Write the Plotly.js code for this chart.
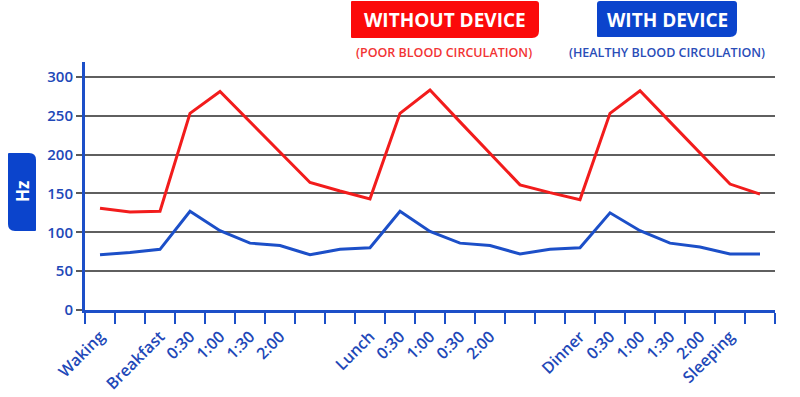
<!DOCTYPE html>
<html>
<head>
<meta charset="utf-8">
<script src="https://cdn.plot.ly/plotly-3.0.1.min.js"></script>
<style>
  html, body { margin: 0; padding: 0; background: #ffffff; }
  #chart { width: 800px; height: 397px; }
</style>
</head>
<body>
<div id="chart"></div>
<script>
// ---- data ----
const timeLabels = ['Waking', '', 'Breakfast', '0:30', '1:00', '1:30', '2:00', '', '', 'Lunch',
  '0:30', '1:00', '0:30', '2:00', '', '', 'Dinner', '0:30', '1:00', '1:30', '2:00', 'Sleeping', ''];
const withoutDevice = [131, 126, 127, 253, 281, 242, 203, 164, 153, 143, 253, 283, 242, 201, 161, 151,
  142, 253, 282, 242, 202, 162, 149];
const withDevice = [71, 74, 78, 127, 102, 86, 83, 71, 78, 80, 127, 101, 86, 83, 72, 78,
  80, 125, 102, 86, 81, 72, 72];
const yTicks = [0, 50, 100, 150, 200, 250, 300];

// ---- layout helpers ----
const W = 800, H = 397;
const M = { l: 85, r: 25, t: 62, b: 87 };
const PW = W - M.l - M.r, PH = H - M.t - M.b;
const px = x => (x - M.l) / PW;
const py = y => (H - M.b - y) / PH;

function roundedPath(x0, y0, x1, y1, r) {
  const p = (x, y) => px(x).toFixed(5) + ',' + py(y).toFixed(5);
  return 'M' + p(x0 + r.tl, y0) +
    ' L' + p(x1 - r.tr, y0) + ' Q' + p(x1, y0) + ' ' + p(x1, y0 + r.tr) +
    ' L' + p(x1, y1 - r.br) + ' Q' + p(x1, y1) + ' ' + p(x1 - r.br, y1) +
    ' L' + p(x0 + r.bl, y1) + ' Q' + p(x0, y1) + ' ' + p(x0, y1 - r.bl) +
    ' L' + p(x0, y0 + r.tl) + ' Q' + p(x0, y0) + ' ' + p(x0 + r.tl, y0) + ' Z';
}

const RED = '#f21c1c';
const BLUE = '#1c4fc8';
const BOX_RED = '#fb0a0a';
const BOX_BLUE = '#0b44cc';
const TXT_BLUE = '#2148b8';

const xIdx = timeLabels.map((_, i) => i);

const traces = [
  { x: xIdx, y: withoutDevice, type: 'scatter', mode: 'lines', name: 'Without device',
    line: { color: RED, width: 3 }, hoverinfo: 'skip' },
  { x: xIdx, y: withDevice, type: 'scatter', mode: 'lines', name: 'With device',
    line: { color: BLUE, width: 3 }, hoverinfo: 'skip' }
];

const shapes = [
  { type: 'path', xref: 'paper', yref: 'paper', fillcolor: BOX_RED, line: { width: 0 },
    path: roundedPath(351, 1, 539, 38, { tl: 1, tr: 3, br: 7, bl: 1 }) },
  { type: 'path', xref: 'paper', yref: 'paper', fillcolor: BOX_BLUE, line: { width: 0 },
    path: roundedPath(597, 1, 737, 37, { tl: 3, tr: 3, br: 7, bl: 1 }) },
  { type: 'path', xref: 'paper', yref: 'paper', fillcolor: BOX_BLUE, line: { width: 0 },
    path: roundedPath(8, 153, 36, 231, { tl: 1, tr: 7, br: 1, bl: 7 }) }
];

const annotations = [
  { xref: 'paper', yref: 'paper', x: px(445), y: py(20), text: 'WITHOUT DEVICE', showarrow: false,
    xanchor: 'center', yanchor: 'middle',
    font: { family: 'Open Sans', size: 19, color: '#ffffff', weight: 700 } },
  { xref: 'paper', yref: 'paper', x: px(667), y: py(20), text: 'WITH DEVICE', showarrow: false,
    xanchor: 'center', yanchor: 'middle',
    font: { family: 'Open Sans', size: 19, color: '#ffffff', weight: 700 } },
  { xref: 'paper', yref: 'paper', x: px(444), y: py(52), text: '(POOR BLOOD CIRCULATION)', showarrow: false,
    xanchor: 'center', yanchor: 'middle',
    font: { family: 'Open Sans', size: 12.5, color: '#f23434', weight: 600 } },
  { xref: 'paper', yref: 'paper', x: px(667), y: py(52), text: '(HEALTHY BLOOD CIRCULATION)', showarrow: false,
    xanchor: 'center', yanchor: 'middle',
    font: { family: 'Open Sans', size: 12.5, color: '#2a4db8', weight: 600 } },
  { xref: 'paper', yref: 'paper', x: px(22), y: py(192), text: 'Hz', showarrow: false, textangle: -90,
    xanchor: 'center', yanchor: 'middle',
    font: { family: 'Open Sans', size: 17, color: '#ffffff', weight: 700 } }
];

const layout = {
  width: W, height: H,
  margin: M,
  paper_bgcolor: '#ffffff', plot_bgcolor: '#ffffff',
  showlegend: false,
  xaxis: {
    type: 'linear', range: [-0.5, xIdx.length - 0.5], fixedrange: true,
    tickmode: 'array', tickvals: xIdx, ticktext: timeLabels,
    ticks: 'outside', ticklen: 8, tickcolor: 'rgba(0,0,0,0)', tickwidth: 1,
    minor: { tickmode: 'linear', tick0: -0.5, dtick: 1, ticks: 'outside', ticklen: 11,
             tickwidth: 2.5, tickcolor: BLUE, showgrid: false },
    tickangle: -45,
    tickfont: { family: 'Open Sans', size: 16, color: TXT_BLUE, weight: 600 },
    showgrid: false, zeroline: false,
    showline: true, linecolor: BLUE, linewidth: 3
  },
  yaxis: {
    range: [0, 319], fixedrange: true,
    tickmode: 'array', tickvals: yTicks, ticktext: yTicks.map(String),
    ticks: 'outside', ticklen: 6, tickwidth: 2, tickcolor: '#5a5a5a',
    tickfont: { family: 'Open Sans', size: 15, color: TXT_BLUE, weight: 600 },
    showgrid: true, gridcolor: '#5f5f5f', gridwidth: 2,
    zeroline: false,
    showline: true, linecolor: BLUE, linewidth: 3
  },
  shapes: shapes,
  annotations: annotations
};

Plotly.newPlot('chart', traces, layout, { displayModeBar: false, staticPlot: true });
</script>
</body>
</html>
